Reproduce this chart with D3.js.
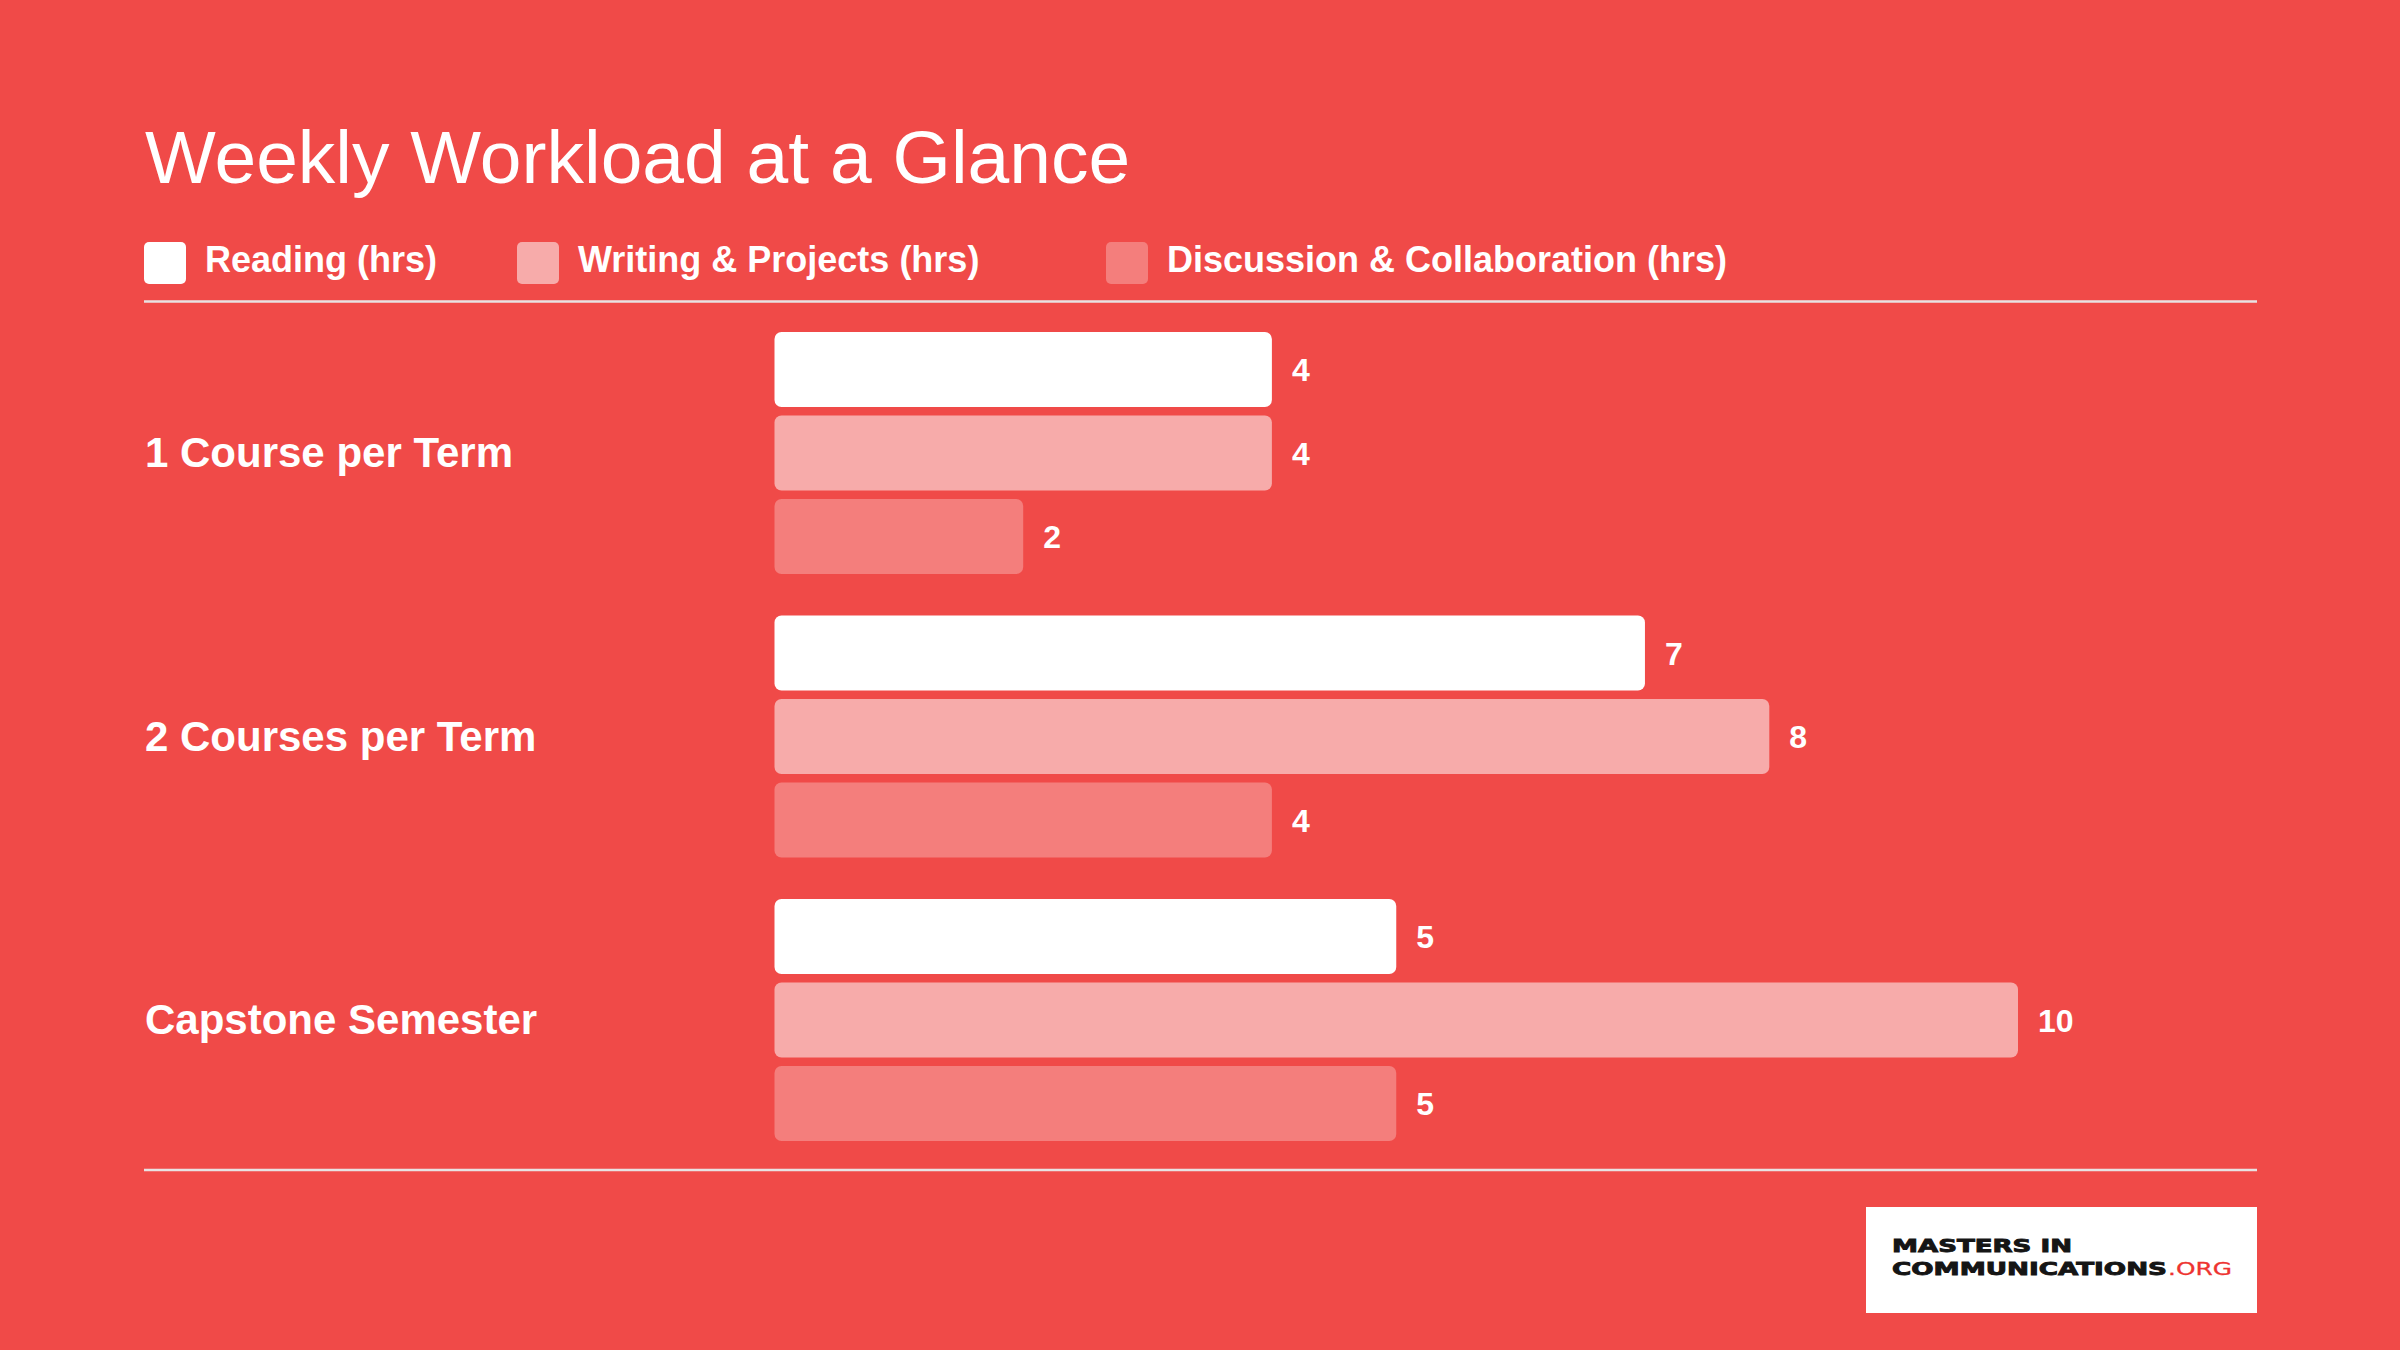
<!DOCTYPE html>
<html>
<head>
<meta charset="utf-8">
<script src="https://cdn.jsdelivr.net/npm/d3@7/dist/d3.min.js"></script>
<style>
  html, body { margin: 0; padding: 0; background: #F04A48; }
  svg { display: block; }
</style>
</head>
<body>
<svg id="chart" width="2400" height="1350"></svg>
<script>
// ---- data ----
const title = "Weekly Workload at a Glance";
const categories = ["1 Course per Term", "2 Courses per Term", "Capstone Semester"];
const seriesNames = ["Reading (hrs)", "Writing & Projects (hrs)", "Discussion & Collaboration (hrs)"];
const reading = [4, 7, 5];
const writing = [4, 8, 10];
const discussion = [2, 4, 5];
const seriesColors = ["#FFFFFF", "#F7ABAA", "#F47E7C"];
const xDomain = [0, 10];

const seriesValues = [reading, writing, discussion];

// ---- layout ----
const W = 2400, H = 1350;
const bg = "#F04A48";
const font = "'Liberation Sans', Arial, Helvetica, sans-serif";
const svg = d3.select("#chart");

svg.append("rect").attr("width", W).attr("height", H).attr("fill", bg);

svg.append("text")
  .attr("x", 145).attr("y", 183)
  .attr("font-family", font).attr("font-size", 75)
  .attr("fill", "#fff")
  .text(title);

// legend
const legendX = [144, 517, 1106];
const legend = svg.append("g");
seriesNames.forEach((name, i) => {
  const g = legend.append("g").attr("transform", `translate(${legendX[i]},242)`);
  g.append("rect").attr("width", 42).attr("height", 42).attr("rx", 5)
    .attr("fill", seriesColors[i]);
  g.append("text").attr("x", 61).attr("y", 29.5)
    .attr("font-family", font).attr("font-weight", "bold").attr("font-size", 36)
    .attr("fill", "#fff").text(name);
});

// rules
const ruleColor = "#E8E2E2";
svg.append("line").attr("x1", 144).attr("x2", 2257).attr("y1", 301.5).attr("y2", 301.5)
  .attr("stroke", ruleColor).attr("stroke-width", 2.5);
svg.append("line").attr("x1", 144).attr("x2", 2257).attr("y1", 1170).attr("y2", 1170)
  .attr("stroke", ruleColor).attr("stroke-width", 2.5);

// scales
const y0 = d3.scaleBand().domain(categories).range([332, 1141]).paddingInner(0.1464).paddingOuter(0);
const y1 = d3.scaleBand().domain(d3.range(seriesNames.length)).range([0, y0.bandwidth()]).paddingInner(0.1018).paddingOuter(0);
const x = d3.scaleLinear().domain(xDomain).range([774.5, 2018]);

const groups = svg.append("g").selectAll("g")
  .data(categories)
  .join("g")
  .attr("transform", d => `translate(0,${y0(d)})`);

groups.append("text")
  .attr("x", 145)
  .attr("y", y0.bandwidth() / 2)
  .attr("dy", "0.34em")
  .attr("font-family", font).attr("font-weight", "bold").attr("font-size", 42)
  .attr("fill", "#fff")
  .text(d => d);

groups.each(function(cat, ci) {
  const g = d3.select(this);
  const rows = seriesValues.map((vals, si) => ({ si, v: vals[ci] }));
  g.selectAll("rect.bar").data(rows).join("rect")
    .attr("class", "bar")
    .attr("x", x(0))
    .attr("y", d => y1(d.si))
    .attr("width", d => x(d.v) - x(0))
    .attr("height", y1.bandwidth())
    .attr("rx", 7)
    .attr("fill", d => seriesColors[d.si]);
  g.selectAll("text.val").data(rows).join("text")
    .attr("class", "val")
    .attr("x", d => x(d.v) + 20)
    .attr("y", d => y1(d.si) + y1.bandwidth() / 2)
    .attr("dy", "0.36em")
    .attr("font-family", font).attr("font-weight", "bold").attr("font-size", 32)
    .attr("fill", "#fff")
    .text(d => d.v);
});

// logo
const logo = svg.append("g");
logo.append("rect").attr("x", 1866).attr("y", 1207).attr("width", 391).attr("height", 106).attr("fill", "#fff");
const logoFont = "'DejaVu Sans', Verdana, sans-serif";
logo.append("text").attr("x", 1892).attr("y", 1252)
  .attr("font-family", logoFont).attr("font-weight", "bold").attr("font-size", 18)
  .attr("textLength", 180).attr("lengthAdjust", "spacingAndGlyphs")
  .attr("stroke", "#151515").attr("stroke-width", 0.9)
  .attr("fill", "#151515").text("MASTERS IN");
logo.append("text").attr("x", 1892).attr("y", 1275)
  .attr("font-family", logoFont).attr("font-weight", "bold").attr("font-size", 18)
  .attr("textLength", 275).attr("lengthAdjust", "spacingAndGlyphs")
  .attr("stroke", "#151515").attr("stroke-width", 0.9)
  .attr("fill", "#151515").text("COMMUNICATIONS");
logo.append("text").attr("x", 2168).attr("y", 1275)
  .attr("font-family", logoFont).attr("font-size", 18)
  .attr("textLength", 64).attr("lengthAdjust", "spacingAndGlyphs")
  .attr("stroke", "#EE3330").attr("stroke-width", 0.3)
  .attr("fill", "#EE3330").text(".ORG");
</script>
</body>
</html>
